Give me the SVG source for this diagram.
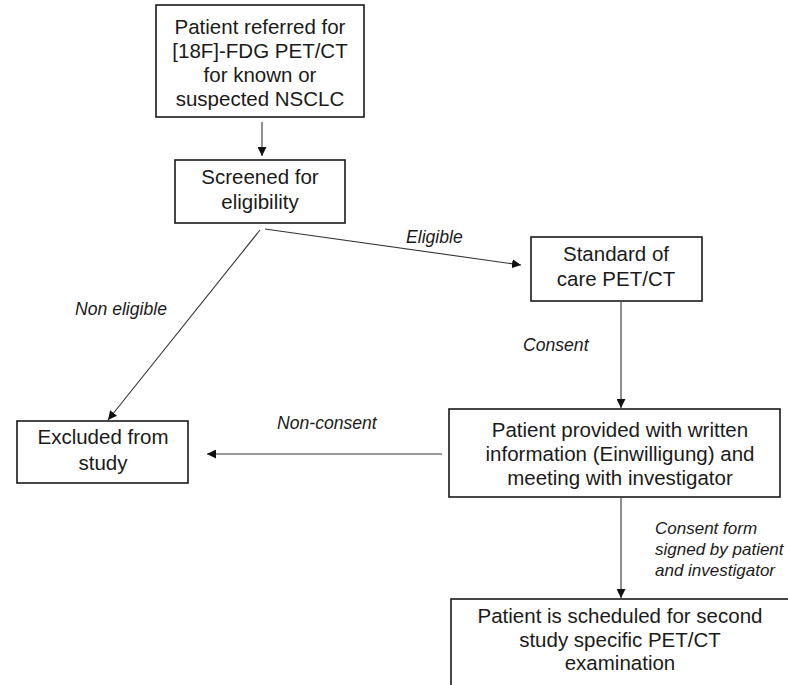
<svg xmlns="http://www.w3.org/2000/svg" width="788" height="685" viewBox="0 0 788 685">
  <style>
    .box { fill: #ffffff; stroke: #1a1a1a; stroke-width: 1.6; }
    .txt { font-family: "Liberation Sans", Arial, sans-serif; font-size: 20.5px; fill: #1a1a1a; text-anchor: middle; }
    .lbl { font-family: "Liberation Sans", Arial, sans-serif; font-size: 17.6px; font-style: italic; fill: #1a1a1a; }
    .lbl.small { font-size: 17px; }
    .edge { stroke: #333333; stroke-width: 1.1; fill: none; marker-end: url(#arrow); }
  </style>
  <defs>
    <marker id="arrow" viewBox="0 0 10 10" refX="10" refY="5" markerWidth="9" markerHeight="9" markerUnits="userSpaceOnUse" orient="auto">
      <path d="M0,0 L10,5 L0,10 Z" fill="#111111"/>
    </marker>
  </defs>
  <rect width="788" height="685" fill="#ffffff"/>

  <g id="connectors">
    <line class="edge" x1="262" y1="122" x2="262" y2="156"/>
    <line class="edge" x1="265" y1="229" x2="521" y2="265"/>
    <line class="edge" x1="260" y1="230" x2="108" y2="420"/>
    <line class="edge" x1="442" y1="454" x2="207" y2="454"/>
    <line class="edge" x1="621" y1="302" x2="621" y2="408"/>
    <line class="edge" x1="621" y1="498" x2="621" y2="598"/>
    <text class="lbl" x="406" y="243">Eligible</text>
    <text class="lbl" x="75" y="315">Non eligible</text>
    <text class="lbl" x="277" y="429">Non-consent</text>
    <text class="lbl" x="523" y="351">Consent</text>
    <text class="lbl small" x="655" y="534">Consent form</text>
    <text class="lbl small" x="655" y="555">signed by patient</text>
    <text class="lbl small" x="655" y="576">and investigator</text>
  </g>

  <g id="referred">
    <rect class="box" x="156" y="5" width="208" height="112"/>
    <text class="txt" x="260" y="34">Patient referred for</text>
    <text class="txt" x="260" y="58">[18F]-FDG PET/CT</text>
    <text class="txt" x="260" y="82">for known or</text>
    <text class="txt" x="260" y="106">suspected NSCLC</text>
  </g>

  <g id="screened">
    <rect class="box" x="175" y="160" width="170" height="63"/>
    <text class="txt" x="260" y="184">Screened for</text>
    <text class="txt" x="260" y="209">eligibility</text>
  </g>

  <g id="standard">
    <rect class="box" x="531" y="237" width="171" height="64"/>
    <text class="txt" x="616" y="261">Standard of</text>
    <text class="txt" x="616" y="286">care PET/CT</text>
  </g>

  <g id="excluded">
    <rect class="box" x="17" y="421" width="171" height="62"/>
    <text class="txt" x="103" y="444">Excluded from</text>
    <text class="txt" x="103" y="470">study</text>
  </g>

  <g id="information">
    <rect class="box" x="449" y="409" width="331" height="88"/>
    <text class="txt" x="620" y="437">Patient provided with written</text>
    <text class="txt" x="620" y="461">information (Einwilligung) and</text>
    <text class="txt" x="620" y="485">meeting with investigator</text>
  </g>

  <g id="scheduled">
    <rect class="box" x="451" y="599" width="360" height="110"/>
    <text class="txt" x="620" y="623">Patient is scheduled for second</text>
    <text class="txt" x="620" y="647">study specific PET/CT</text>
    <text class="txt" x="620" y="670">examination</text>
  </g>
</svg>
